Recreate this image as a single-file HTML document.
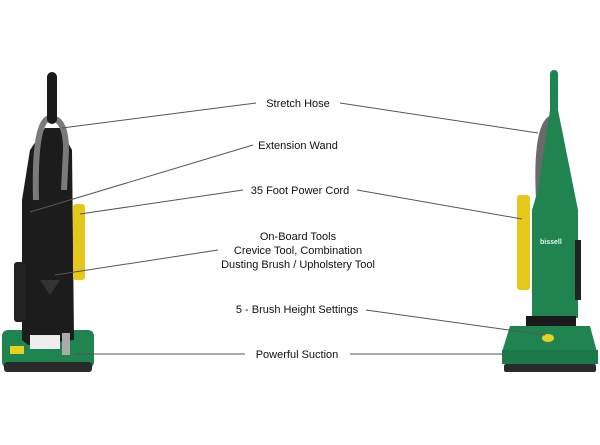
<!DOCTYPE html>
<html><head><style>
html,body{margin:0;padding:0;background:#fff;}
svg{display:block;}
text{font-family:"Liberation Sans",sans-serif;font-size:11px;fill:#111;}
</style></head><body>
<svg width="600" height="445" viewBox="0 0 600 445">
<!-- LEFT VACUUM -->
<rect x="2" y="330" width="92" height="38" rx="6" fill="#1f8450"/>
<rect x="4" y="362" width="88" height="10" rx="3" fill="#2a2a2a"/>
<rect x="10" y="346" width="14" height="8" fill="#e8d020"/>
<path d="M22 200 L30 150 L45 128 L60 128 L72 150 L74 340 L28 345 L22 340 Z" fill="#1c1c1c"/>
<rect x="14" y="262" width="12" height="60" rx="3" fill="#222"/>
<path d="M36 200 Q34 120 50 118 Q66 118 66 150 L64 190" fill="none" stroke="#7a7a7a" stroke-width="6"/>
<rect x="47" y="72" width="10" height="52" rx="5" fill="#1a1a1a"/>
<rect x="73" y="204" width="12" height="76" rx="3" fill="#e6c81a"/>
<rect x="30" y="335" width="30" height="14" fill="#eee"/>
<rect x="62" y="333" width="8" height="22" fill="#aaa"/>
<path d="M40 280 L60 280 L50 295 Z" fill="#333"/>

<!-- RIGHT VACUUM -->
<path d="M536 200 Q532 120 552 115 Q568 118 566 200 Z" fill="#6a6a6a"/>
<rect x="517" y="195" width="13" height="95" rx="3" fill="#e6c81a"/>
<path d="M550 110 L558 110 L575 195 L578 210 L578 318 L532 318 L532 210 L538 190 Z" fill="#1f8450"/>
<rect x="550" y="70" width="8" height="45" rx="4" fill="#1f8450"/>
<rect x="575" y="240" width="6" height="60" fill="#222"/>
<text x="540" y="244" style="font-size:7px;fill:#e6f0e6;font-weight:bold">bissell</text>
<rect x="526" y="316" width="50" height="18" fill="#1a1a1a"/>
<path d="M510 326 L590 326 L597 352 L502 352 Z" fill="#1f8450"/>
<rect x="502" y="350" width="96" height="14" fill="#1b7848"/>
<rect x="504" y="364" width="92" height="8" rx="2" fill="#2a2a2a"/>
<ellipse cx="548" cy="338" rx="6" ry="4" fill="#e8d020"/>

<!-- LINES -->
<g stroke="#555" stroke-width="1" fill="none">
<line x1="62" y1="128" x2="256" y2="103"/>
<line x1="340" y1="103" x2="538" y2="133"/>
<line x1="253" y1="145" x2="30" y2="212"/>
<line x1="243" y1="190" x2="80" y2="214"/>
<line x1="357" y1="190" x2="522" y2="219"/>
<line x1="218" y1="250" x2="55" y2="275"/>
<line x1="366" y1="310" x2="545" y2="335"/>
<line x1="245" y1="354" x2="75" y2="354"/>
<line x1="350" y1="354" x2="505" y2="354"/>
</g>

<!-- LABELS -->
<g text-anchor="middle">
<text x="298" y="107">Stretch Hose</text>
<text x="298" y="149">Extension Wand</text>
<text x="300" y="194">35 Foot Power Cord</text>
<text x="298" y="240">On-Board Tools</text>
<text x="298" y="254">Crevice Tool, Combination</text>
<text x="298" y="268">Dusting Brush / Upholstery Tool</text>
<text x="297" y="313">5 - Brush Height Settings</text>
<text x="297" y="358">Powerful Suction</text>
</g>
</svg>
</body></html>
